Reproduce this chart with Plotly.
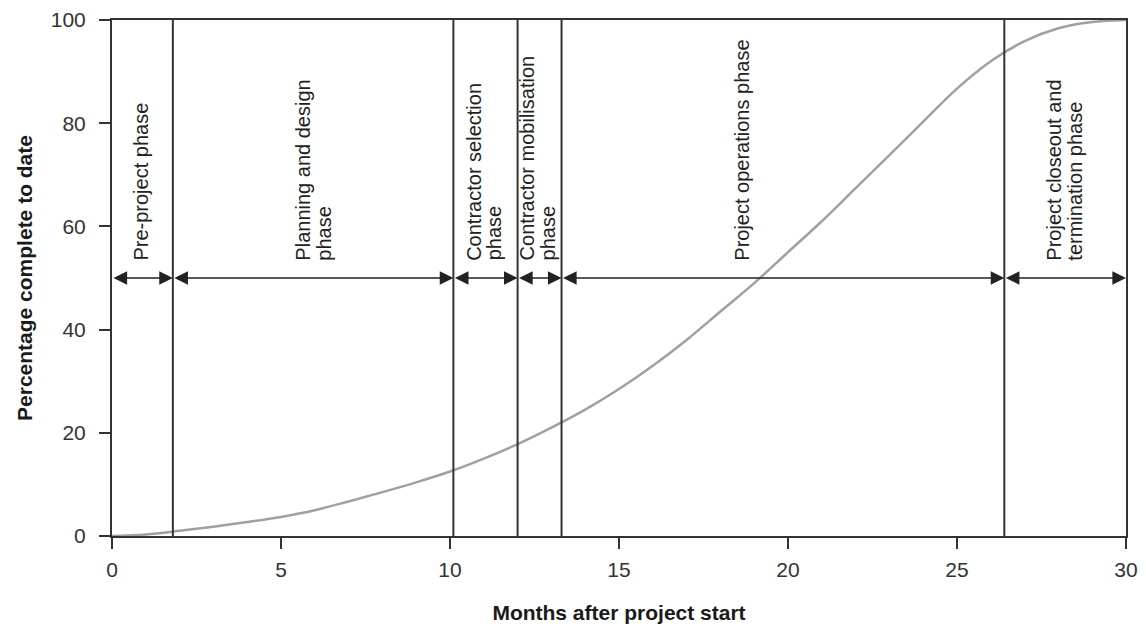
import plotly.graph_objects as go

# ---- data ----
months = list(range(0, 31))
pct_complete = [0, 0.3, 1.0, 1.8, 2.7, 3.7, 5.0, 6.7, 8.5, 10.4, 12.5, 15.0, 17.8,
                21.0, 24.5, 28.5, 33.0, 38.0, 43.5, 49.0, 55.0, 61.0, 67.4, 73.8,
                80.3, 86.7, 92.0, 95.9, 98.4, 99.6, 100]

phase_bounds = [0, 1.8, 10.1, 12.0, 13.3, 26.4, 30]
phase_labels = ["Pre-project phase",
                "Planning and design<br>phase",
                "Contractor selection<br>phase",
                "Contractor mobilisation<br>phase",
                "Project operations phase",
                "Project closeout and<br>termination phase"]
label_x = [0.83, 5.95, 11.0, 12.6, 18.63, 28.17]
arrow_level = 50
label_base = 53

x_ticks = [0, 5, 10, 15, 20, 25, 30]
y_ticks = [0, 20, 40, 60, 80, 100]

INK = "#333333"
FONT = "Liberation Sans, Arial, Helvetica, sans-serif"

fig = go.Figure()

fig.add_trace(go.Scatter(x=months, y=pct_complete, mode="lines",
                         line=dict(color="#a0a0a0", width=2.5, shape="spline", smoothing=1.0),
                         hoverinfo="skip", showlegend=False))

# vertical phase boundaries
for b in phase_bounds[1:-1]:
    fig.add_shape(type="line", xref="x", yref="y", x0=b, x1=b, y0=0, y1=100,
                  line=dict(color=INK, width=2), layer="above")

# double-headed arrows for each phase
for a, b in zip(phase_bounds[:-1], phase_bounds[1:]):
    fig.add_annotation(x=b, y=arrow_level, ax=a, ay=arrow_level, xref="x", yref="y",
                       axref="x", ayref="y", text="", showarrow=True,
                       arrowside="end+start", arrowhead=2, startarrowhead=2,
                       arrowsize=1.7, startarrowsize=1.7, arrowwidth=1.6,
                       arrowcolor="#222222", standoff=0, startstandoff=0)

# rotated phase labels (each line placed separately)
line_gap = 21
for lbl, lx in zip(phase_labels, label_x):
    lines = lbl.split("<br>")
    n = len(lines)
    for i, t in enumerate(lines):
        fig.add_annotation(x=lx, y=label_base, xref="x", yref="y", text=t,
                           showarrow=False, textangle=-90, xanchor="center",
                           yanchor="bottom", xshift=(i - (n - 1) / 2) * line_gap,
                           font=dict(family=FONT, size=20, color="#222222"))

fig.update_layout(
    width=1146, height=624,
    margin=dict(l=112, r=20, t=20, b=88, autoexpand=False),
    paper_bgcolor="white", plot_bgcolor="white",
    font=dict(family=FONT, color="#222222"),
    showlegend=False,
)
fig.update_xaxes(range=[0, 30], tickvals=x_ticks, showgrid=False, zeroline=False,
                 showline=True, linecolor=INK, linewidth=2, mirror=True,
                 ticks="outside", ticklen=11, tickwidth=2, tickcolor=INK,
                 ticklabelstandoff=3,
                 tickfont=dict(family=FONT, size=21, color="#333333"),
                 title=dict(text="Months after project start", standoff=33,
                            font=dict(family=FONT, size=21, color="#1a1a1a", weight="bold")))
fig.update_yaxes(range=[0, 100], tickvals=y_ticks, showgrid=False, zeroline=False,
                 showline=True, linecolor=INK, linewidth=2, mirror=True,
                 ticks="outside", ticklen=11, tickwidth=2, tickcolor=INK,
                 ticklabelstandoff=9,
                 tickfont=dict(family=FONT, size=21, color="#333333"),
                 title=dict(text="Percentage complete to date", standoff=12,
                            font=dict(family=FONT, size=21, color="#1a1a1a", weight="bold")))

# remove the default page margin so the figure fills the window exactly
fig.write_html("out.html", config={"displayModeBar": False},
               post_script="document.body.style.margin='0';")
